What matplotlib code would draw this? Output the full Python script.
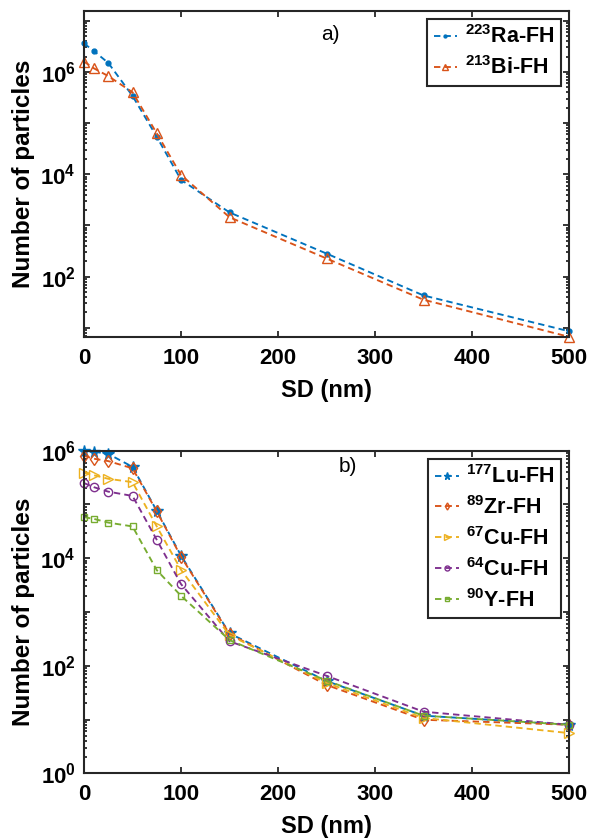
import matplotlib

matplotlib.use("Agg")
import matplotlib.pyplot as plt
from matplotlib.ticker import FixedLocator, FuncFormatter, LogLocator, NullFormatter
import numpy as np

plt.rcParams["font.family"] = ["Liberation Sans", "DejaVu Sans"]
plt.rcParams["mathtext.fontset"] = "custom"
plt.rcParams["mathtext.rm"] = "Liberation Sans:bold"
plt.rcParams["mathtext.it"] = "Liberation Sans:bold"
plt.rcParams["mathtext.bf"] = "Liberation Sans:bold"
plt.rcParams["mathtext.default"] = "rm"

# SD values (nm) shared by every series
sd_nm = [0, 10, 25, 50, 75, 100, 150, 250, 350, 500]

# panel a)
ra223 = [3.6e6, 2.57e6, 1.5e6, 3.4e5, 5.4e4, 7.8e3, 1.8e3, 2.83e2, 43, 8.6]
bi213 = [1.59e6, 1.18e6, 8.3e5, 4.0e5, 6.3e4, 9.7e3, 1.45e3, 2.27e2, 35.5, 6.7]

# panel b)
lu177 = [1.0e6, 9.6e5, 8.7e5, 5.0e5, 7.6e4, 1.12e4, 4.0e2, 52, 11.8, 8.0]
zr89 = [8.0e5, 7.1e5, 6.4e5, 4.7e5, 7.4e4, 1.07e4, 3.9e2, 44, 9.9, 8.0]
cu67 = [3.9e5, 3.5e5, 3.0e5, 2.6e5, 3.9e4, 6.1e3, 3.7e2, 48, 10.7, 5.6]
cu64 = [2.5e5, 2.1e5, 1.73e5, 1.44e5, 2.2e4, 3.3e3, 2.85e2, 65, 14, 8.0]
y90 = [5.8e4, 5.4e4, 4.6e4, 3.9e4, 6.0e3, 2.0e3, 3.0e2, 53, 11.8, 8.0]

BLUE = "#0072BD"
ORANGE = "#D95319"
YELLOW = "#EDB120"
PURPLE = "#7E2F8E"
GREEN = "#77AC30"
DARK = "#262626"

DASH = (3.4, 2.2)


def _style(ax, ylim, decades):
    ax.set_xlim(0, 500)
    ax.set_yscale("log")
    ax.set_ylim(*ylim)
    ax.set_xticks([0, 100, 200, 300, 400, 500])
    ax.yaxis.set_major_locator(FixedLocator([10.0 ** k for k in decades]))
    ax.yaxis.set_major_formatter(
        FuncFormatter(
            lambda v, pos: rf"$10^{{{int(round(np.log10(v)))}}}$"
            if int(round(np.log10(v))) % 2 == 0
            else ""
        )
    )
    ax.yaxis.set_minor_locator(LogLocator(base=10, subs=np.arange(2, 10), numticks=30))
    ax.yaxis.set_minor_formatter(NullFormatter())
    ax.tick_params(which="both", direction="in", top=True, right=True,
                   color=DARK, width=1.3)
    ax.tick_params(which="major", length=4.5, labelsize=16, pad=8)
    ax.tick_params(which="minor", length=2.5)
    ax.tick_params(axis="y", which="major", pad=6)
    for lab in ax.get_xticklabels():
        lab.set_fontweight("bold")
    for sp in ax.spines.values():
        sp.set_linewidth(1.5)
        sp.set_color(DARK)
    ax.set_xlabel("SD (nm)", fontsize=17, fontweight="bold", labelpad=7)
    ax.set_ylabel("Number of particles", fontsize=17.5, fontweight="bold", labelpad=4)


def _line(ax, y, color, marker, label, ms=6, filled=False):
    ax.plot(sd_nm, y, linestyle=(0, DASH), color=color, linewidth=1.35,
            marker=marker, markersize=ms, markeredgewidth=1.0,
            markerfacecolor=color if filled else "none", label=label,
            clip_on=False)


def _legend(ax):
    leg = ax.legend(loc="upper right", bbox_to_anchor=(0.9835, 0.975),
                    borderaxespad=0, fancybox=False, framealpha=1,
                    edgecolor=DARK, handlelength=1.1, markerscale=0.6,
                    handletextpad=0.35, labelspacing=0.37, borderpad=0.3,
                    prop={"weight": "bold", "size": 15.5})
    leg.get_frame().set_linewidth(1.5)
    return leg


fig = plt.figure(figsize=(5.9, 8.38), dpi=100)

ax1 = fig.add_axes([0.1424, 0.5975, 0.822, 0.3894])
_line(ax1, ra223, BLUE, "o", r"$^{223}$Ra-FH", ms=3.5, filled=True)
_line(ax1, bi213, ORANGE, "^", r"$^{213}$Bi-FH", ms=6.5)
_style(ax1, (6.55, 1.55e7), range(0, 9))
ax1.text(0.507, 0.928, "a)", transform=ax1.transAxes, fontsize=15,
         ha="center", va="center", color="black")
_legend(ax1)

ax2 = fig.add_axes([0.1424, 0.0772, 0.822, 0.385])
_line(ax2, lu177, BLUE, "*", r"$^{177}$Lu-FH", ms=8.5, filled=True)
_line(ax2, zr89, ORANGE, "d", r"$^{89}$Zr-FH", ms=6)
_line(ax2, cu67, YELLOW, ">", r"$^{67}$Cu-FH", ms=6.5)
_line(ax2, cu64, PURPLE, "o", r"$^{64}$Cu-FH", ms=6)
_line(ax2, y90, GREEN, "s", r"$^{90}$Y-FH", ms=5)
_style(ax2, (1, 1e6), range(0, 7))
ax2.text(0.544, 0.952, "b)", transform=ax2.transAxes, fontsize=15,
         ha="center", va="center", color="black")
_legend(ax2)

fig.savefig("out.png", dpi=100)
